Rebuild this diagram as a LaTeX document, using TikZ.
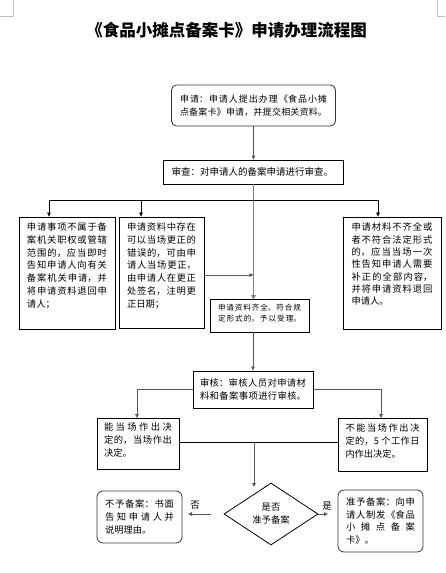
\documentclass[tikz,border=0pt]{standalone}
\usepackage{fontspec}
\setmainfont{Noto Sans CJK SC}
\usetikzlibrary{shapes.geometric,arrows.meta}
\XeTeXlinebreaklocale "zh"
\XeTeXlinebreakskip=0pt plus 1pt
\newcommand\fs[2]{\fontsize{#1}{#2}\selectfont}
\newcommand\bt[4]{\parbox[c][#2][#3]{#1}{\tolerance=10000\relax\emergencystretch=20pt #4}}
\tikzset{
  bx/.style={draw=black, line width=0.8pt, inner sep=0pt},
  rbx/.style={bx, draw=black!80, rounded corners=6pt},
  arr/.style={-{Triangle[length=4pt,width=3.6pt]}},
  ln/.style={line width=0.7pt, draw=black},
  gln/.style={line width=0.8pt, draw=black!65},
}
\begin{document}
\begin{tikzpicture}[x=1pt,y=-1pt]
\useasboundingbox (0,0) rectangle (445,573);
% page corner marks
\draw[black!25, line width=0.6pt] (13,0) -- (13,16) -- (0,16);
\draw[black!25, line width=0.6pt] (437,0) -- (437,16) -- (445,16);
% title
\node (title) at (226.5,30) {\fs{16.5}{18}\bfseries 《食品小摊点备案卡》申请办理流程图};
% boxes
\node[rbx, rounded corners=5pt, inner xsep=8.5pt, inner ysep=2pt] (b1) at (253.5,105.5)
  {\bt{147pt}{37pt}{c}{\fs{9}{12.5}\parfillskip=0pt 申请：申请人提出办理《食品小摊\linebreak 点备案卡》申请，并提交相关资料。}};
\node[bx, inner xsep=8pt, inner ysep=2pt] (b2) at (253.5,172)
  {\bt{164pt}{20pt}{c}{\fs{9.5}{12}审查：对申请人的备案申请进行审查。}};
\node[bx, inner xsep=8pt, inner ysep=6pt] (b3) at (67,273)
  {\bt{80pt}{100pt}{t}{\fs{9.3}{12.7}申请事项不属于备\linebreak 案机关职权或管辖\linebreak 范围的，应当即时\linebreak 告知申请人向有关\linebreak 备案机关申请，并\linebreak 将申请资料退回申\linebreak 请人；}};
\node[bx, inner xsep=8pt, inner ysep=6pt] (b4) at (161.5,272.5)
  {\bt{69pt}{99pt}{t}{\fs{9.3}{12.7}申请资料中存在\linebreak 可以当场更正的\linebreak 错误的，可由申\linebreak 请人当场更正，\linebreak 由申请人在更正\linebreak 处签名，注明更\linebreak 正日期；}};
\node[bx, inner xsep=8pt, inner ysep=5pt] (b5) at (259.5,315.5)
  {\bt{83pt}{23pt}{t}{\fs{7.6}{11.5}\parfillskip=0pt 申请资料齐全、符合规\linebreak 定形式的，予以受理。}};
\node[bx, inner xsep=8.5pt, inner ysep=6pt] (b6) at (392,273)
  {\bt{81pt}{100pt}{t}{\fs{9.3}{12.3}申请材料不齐全或\linebreak 者不符合法定形式\linebreak 的，应当当场一次\linebreak 性告知申请人需要\linebreak 补正的全部内容，\linebreak 并将申请资料退回\linebreak 申请人。}};
\node[bx, inner xsep=7pt, inner ysep=2pt] (b7) at (253,389.5)
  {\bt{106pt}{33pt}{c}{\fs{9.3}{13}\parfillskip=0pt 审核：审核人员对申请材\linebreak 料和备案事项进行审核。}};
\node[bx, inner xsep=7pt, inner ysep=5pt] (b8) at (138,443.5)
  {\bt{68pt}{41pt}{t}{\fs{9.3}{12.6}能当场作出决\linebreak 定的，当场作出\linebreak 决定。}};
\node[bx, inner xsep=7.5pt, inner ysep=6pt] (b9) at (382.5,444.5)
  {\bt{74pt}{41pt}{t}{\fs{9.2}{12.8}不能当场作出决\linebreak 定的，5 个工作日\linebreak 内作出决定。}};
\node[rbx, inner xsep=8pt, inner ysep=2pt] (b10) at (139.5,517)
  {\bt{69pt}{48pt}{c}{\fs{9.3}{13}不予备案：书面\linebreak 告知申请人并\linebreak 说明理由。}};
\node[rbx, inner xsep=8pt, inner ysep=2pt] (b11) at (380.5,521)
  {\bt{69pt}{58pt}{c}{\fs{9.3}{12.7}准予备案：向申\linebreak 请人制发《食品\linebreak 小摊点备案\linebreak 卡》。}};
\node[draw=black, line width=0.8pt, diamond, minimum width=94pt, minimum height=62pt, inner sep=0pt, align=center, font=\fs{9.3}{13}] (dia) at (271,514) {是否\\准予备案};
% labels
\node (no) at (195,505) {\fs{9.5}{11}否};
\node (yes) at (327,506) {\fs{9.5}{11}是};
% coordinates
\coordinate (c3) at (49,200);
\coordinate (c4) at (141,200);
\coordinate (c6) at (378,200);
\coordinate (m) at (253.5,275);
\coordinate (c8) at (137,418);
\coordinate (c9) at (381,418);
\coordinate (h) at (254,442);
\coordinate (dtop) at (254,487);
\coordinate (na) at (211,514);
\coordinate (nb) at (188,514);
\coordinate (ya) at (328,514);
% connectors
\draw[gln, arr] (b1.south) -- (b2.north);
\draw[line width=1.8pt, draw=black!50, -{Triangle[length=4.5pt,width=4.5pt]}] (b2.south) -- ([yshift=-1pt]b2.south |- b5.north);
\draw[ln] (c3) -- (c6);
\draw[ln, arr] (c3) -- (c3 |- b3.north);
\draw[ln, arr] (c4) -- (c4 |- b4.north);
\draw[ln, arr] (c6) -- (c6 |- b6.north);
\draw[gln, arr] (b4.east |- m) -- (m);
\draw[gln, arr] (b7.north |- b5.south) -- (b7.north);
\draw[gln, arr] (b7.west) -| (c8);
\draw[gln, arr] (b7.east) -| (c9);
\draw[ln] (b8.east |- h) -- (b9.west |- h);
\draw[gln, arr] (h) -- (dtop);
\draw[gln, arr] (na) -- (nb);
\draw[gln, arr] (dia.east) -- (ya);
\end{tikzpicture}
\end{document}
